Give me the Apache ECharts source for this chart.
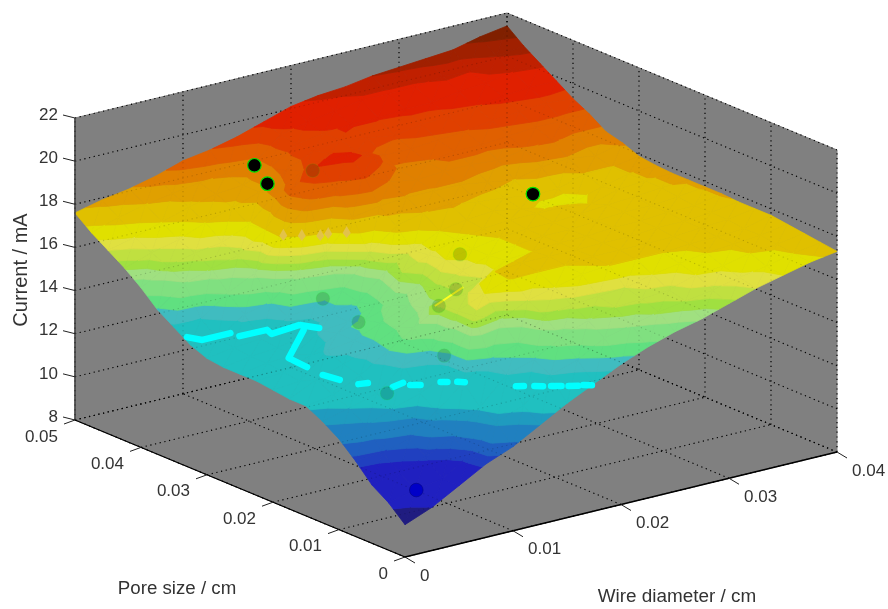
<!DOCTYPE html>
<html><head><meta charset="utf-8"><style>html,body{margin:0;padding:0;background:#fff}#c{width:888px;height:609px}</style>
<script src="https://cdn.jsdelivr.net/npm/echarts@6/dist/echarts.min.js"></script></head><body><div id="c"></div>
<script>
const wireTicks=[0,0.01,0.02,0.03,0.04];
const wireLabels=['0','0.01','0.02','0.03','0.04'];
const poreTicks=[0,0.01,0.02,0.03,0.04,0.05];
const poreLabels=['0','0.01','0.02','0.03','0.04','0.05'];
const currentTicks=[8,10,12,14,16,18,20,22];
const wireStep=0.0025, poreStep=0.0025;
// current (mA): one row per pore size (0 to 0.05 cm), one column per wire diameter (0 to 0.04 cm)
const current=[
[9.5,10.0,10.7,11.4,11.9,12.6,13.3,13.9,14.5,15.0,15.4,15.7,16.1,16.5,16.8,17.1,17.3],
[10.2,10.5,10.7,11.5,12.7,13.2,14.3,14.7,15.4,15.7,16.0,16.2,16.4,16.7,16.9,17.2,17.4],
[10.7,11.0,11.4,12.0,13.1,14.3,14.7,15.4,15.9,16.2,16.3,16.4,16.8,16.9,17.2,17.3,17.5],
[11.5,11.6,11.9,12.9,13.9,14.7,15.1,16.1,16.3,16.4,16.5,16.8,17.0,17.2,17.3,17.4,17.6],
[12.2,12.5,13.0,13.4,14.0,16.4,15.9,16.5,16.8,17.1,17.2,17.2,17.2,17.3,17.3,17.4,17.7],
[12.7,13.0,13.4,14.4,14.7,16.3,16.8,17.25,17.2,17.2,17.3,17.3,17.3,17.3,17.4,17.5,17.7],
[13.1,13.3,13.9,14.7,15.5,16.3,16.5,17.2,17.3,17.3,17.3,17.3,17.3,17.4,17.4,17.5,17.7],
[13.1,13.7,14.1,14.6,15.2,15.8,16.1,16.4,17.1,17.2,17.3,17.3,17.4,17.4,17.5,17.5,17.75],
[13.2,13.3,14.4,14.6,15.1,15.6,16.1,16.6,17.0,17.2,17.3,17.3,17.4,17.5,17.5,17.6,17.75],
[13.3,13.4,13.9,14.6,14.9,15.3,15.9,16.8,17.0,17.2,17.3,17.3,17.4,17.5,17.6,17.7,17.75],
[13.3,13.5,13.6,14.4,14.5,15.0,16.2,16.7,17.1,17.3,17.4,17.4,17.4,17.25,17.6,17.7,17.75],
[13.3,13.5,13.6,13.9,14.6,14.8,15.9,16.6,17.2,17.4,17.5,17.3,17.1,17.0,17.4,17.7,17.8],
[13.4,13.6,13.7,14.4,14.6,15.0,16.4,17.4,17.7,17.8,17.6,17.5,17.3,17.3,17.7,17.7,17.9],
[13.7,13.7,14.5,14.8,15.9,16.4,17.8,18.0,18.1,18.1,18.1,17.9,17.7,18.0,18.1,17.9,18.2],
[14.2,14.3,15.2,15.8,17.3,18.4,18.8,19.2,18.5,18.3,18.4,18.4,18.3,18.5,18.6,18.4,18.4],
[14.7,15.6,16.0,16.3,17.2,18.8,19.6,19.8,19.35,18.4,18.5,18.7,18.7,18.8,18.9,18.9,18.9],
[15.4,16.1,16.4,16.6,17.1,18.3,19.0,19.5,19.3,18.8,18.8,18.9,19.0,19.2,19.3,19.4,19.3],
[16.0,16.4,16.7,17.2,17.6,18.0,18.7,19.3,19.5,19.3,19.1,19.3,19.4,19.5,19.7,19.8,19.8],
[16.5,16.8,17.2,17.6,17.9,18.0,18.5,19.3,19.5,19.6,19.6,19.7,19.7,19.9,20.0,20.2,20.3],
[17.0,17.4,17.7,17.9,18.1,18.2,18.4,19.4,19.7,19.9,20.1,20.1,20.1,20.3,20.2,20.6,20.8],
[17.6,17.9,18.1,18.4,18.8,19.0,19.3,19.7,20.1,20.3,20.4,20.6,20.7,20.8,20.9,21.2,21.4]];
const levels=[9,10,11.3,11.65,12.05,12.6,13,14.3,14.75,15.15,15.65,15.95,16.2,16.5,16.8,17.2,17.72,18.15,18.55,19.03,19.55,20.2,20.6,21.05,22];
const bandColors=['#201c80','#2020c0','#2040c0','#2060c0','#2080c0','#1f9bbf','#20c0c0','#40bcc0','#60e080','#80e080','#a0e080','#a0e040','#c0e040','#e0e040','#e0e000','#e0c000','#e0a000','#e08000','#e06000','#e04000','#e02000','#c02000','#a02000','#802000'];
// measured points
const dotWire=[.0105,.0117,.03,.0041,.0159,.02,.02,.02,.01,.01,.02,.005];
const dotPore=[.04,.04,.0297,.005,.04,.0244,.025,.0276,.0288,.0234,.0268,.0109];
const dotCurrent=[19.8,18.8,17.4,9.97,18.9,16.5,14.8,13.7,15.1,14.7,11.5,13.6];
const dotAbove=[1,1,1,2,0,0,0,0,0,0,0,0];
// saturated streaks at 13.7 mA, as [wire, pore] runs
const streakCurrent=13.7;
const streaks=[
[[.0009,.0345],[.0014,.0330],[.0040,.0330]],
[[.0041,.0318],[.0066,.0317],[.0063,.0305],[.0092,.0310],[.0099,.0292]],
[[.0087,.0296],[.0039,.0240],[.0037,.0209]],
[[.0035,.0182],[.0038,.0161]],
[[.0043,.0141],[.0050,.0138]],
[[.0059,.0115],[.0071,.0119]],
[[.0072,.0110],[.0078,.0104]],
[[.0094,.0100],[.0098,.0096]],
[[.0104,.0091],[.0108,.0086]],
[[.0132,.0048],[.0137,.0044]],
[[.0143,.0038],[.0148,.0033]],
[[.0153,.0029],[.0159,.0023]],
[[.0163,.0019],[.0169,.0014]],
[[.0173,.0013],[.0178,.0008]]];
const foldWire=[.02,.02], foldPore=[.0282,.0239], foldCurrent=[13.62,15.04];
const spikeWire=[.01,.01,.01,.01,.01], spikePore=[.0348,.032,.0292,.028,.0252], spikeCurrent=[17.3,17.65,18,18.25,18.65];

const W=.04,Pm=.05,C0=8,C1=22;
const P=(w,p,c)=>[405+432*w/W-330*p/Pm,557-105*w/W-137*p/Pm-(c-C0)*302/(C1-C0)];
const nW=current[0].length,nP=current.length;
function clip(poly,lim,sign){const out=[];for(let i=0;i<poly.length;i++){const a=poly[i],b=poly[(i+1)%poly.length];const ia=sign*(a[2]-lim)>=0,ib=sign*(b[2]-lim)>=0;if(ia)out.push(a);if(ia!==ib){const t=(lim-a[2])/(b[2]-a[2]);out.push([a[0]+t*(b[0]-a[0]),a[1]+t*(b[1]-a[1]),lim]);}}return out;}
const font='"Liberation Sans",Arial,sans-serif';
function gridLines(api,alpha){
 const ch=[];const L=(a,b)=>{const q=api.coord(a),r=api.coord(b);ch.push({type:'line',shape:{x1:q[0],y1:q[1],x2:r[0],y2:r[1]},style:{stroke:'#000',lineWidth:1.1,lineDash:[1.2,3.6],opacity:alpha}});};
 wireTicks.forEach(w=>{L(P(w,Pm,C0),P(w,Pm,C1));L(P(w,0,C0),P(w,Pm,C0));});
 poreTicks.forEach(p=>{L(P(W,p,C0),P(W,p,C1));L(P(0,p,C0),P(W,p,C0));});
 currentTicks.forEach(c=>{L(P(0,Pm,c),P(W,Pm,c));L(P(W,0,c),P(W,Pm,c));});
 return ch;}
function frame(params,api){
 const ch=[];const poly=pts=>ch.push({type:'polygon',shape:{points:pts.map(a=>api.coord(a))},style:{fill:'#808080',stroke:'#808080',lineWidth:1}});
 poly([P(0,Pm,C0),P(W,Pm,C0),P(W,Pm,C1),P(0,Pm,C1)]);
 poly([P(W,Pm,C0),P(W,0,C0),P(W,0,C1),P(W,Pm,C1)]);
 poly([P(0,0,C0),P(W,0,C0),P(W,Pm,C0),P(0,Pm,C0)]);
 return {type:'group',children:ch.concat(gridLines(api,1))};}
function surf(params,api){const i=api.value(0),j=api.value(1);const ch=[];
 const V=(a,b)=>{const c=current[b][a];const q=api.coord(P(a*wireStep,b*poreStep,c));return [q[0],q[1],c];};
 const A=V(i,j),B=V(i+1,j),C=V(i+1,j+1),D=V(i,j+1);
 for(const tri of [[A,B,C],[A,C,D]]){const mn=Math.min(tri[0][2],tri[1][2],tri[2][2]),mx=Math.max(tri[0][2],tri[1][2],tri[2][2]);
  for(let k=0;k<bandColors.length;k++){if(levels[k+1]<mn||levels[k]>mx)continue;let pl=clip(tri,levels[k],1);if(pl.length)pl=clip(pl,levels[k+1],-1);if(pl.length<3)continue;
   ch.push({type:'polygon',shape:{points:pl.map(v=>[v[0],v[1]])},style:{fill:bandColors[k],stroke:bandColors[k],lineWidth:0.8}});}}
 return {type:'group',children:ch};}
function overlay(params,api){
 const ch=gridLines(api,0.17);
 spikePore.forEach((p,i)=>{const q=api.coord(P(spikeWire[i],p,spikeCurrent[i]));ch.push({type:'polygon',shape:{points:[[q[0],q[1]-6],[q[0]+4,q[1]+1],[q[0],q[1]+6],[q[0]-4,q[1]+1]]},style:{fill:'#e2c24a'}});});
 streaks.forEach(run=>{ch.push({type:'polyline',shape:{points:run.map(a=>api.coord(P(a[0],a[1],streakCurrent)))},style:{stroke:'#00ffff',fill:null,lineWidth:6.5,lineCap:'round',lineJoin:'round'}});});
 ch.push({type:'polyline',shape:{points:foldWire.map((w,i)=>api.coord(P(w,foldPore[i],foldCurrent[i])))},style:{stroke:'#ffff20',fill:null,lineWidth:2}});
 dotWire.forEach((w,i)=>{const q=api.coord(P(w,dotPore[i],dotCurrent[i]));const s=dotAbove[i];
  ch.push({type:'circle',shape:{cx:q[0],cy:q[1],r:6.8},style:s===1?{fill:'#000',stroke:'#00e000',lineWidth:1.2}:s===2?{fill:'#0000c8',stroke:'rgba(0,0,120,.5)',lineWidth:1}:{fill:'rgba(0,40,0,.16)',stroke:'rgba(0,255,0,.1)',lineWidth:1.2}});});
 return {type:'group',children:ch};}
function axesAndText(params,api){
 const ch=[];const L=(a,b,col,lw)=>ch.push({type:'line',shape:{x1:a[0],y1:a[1],x2:b[0],y2:b[1]},style:{stroke:col,lineWidth:lw}});
 const T=(x,y,s,align)=>ch.push({type:'text',x,y,style:{text:s,font:'17px '+font,fill:'#333',align,verticalAlign:'middle'}});
 L(api.coord(P(0,Pm,C0)),api.coord(P(0,Pm,C1)),'#404040',1.5);
 L(api.coord(P(0,Pm,C0)),api.coord(P(0,0,C0)),'#000',1.3);
 L(api.coord(P(0,0,C0)),api.coord(P(W,0,C0)),'#000',1.3);
 currentTicks.forEach(c=>{const q=api.coord(P(0,Pm,c));L(q,[q[0]-12,q[1]-3],'#222',1);T(q[0]-17,q[1]-3,String(c),'right');});
 poreTicks.forEach((p,i)=>{const q=api.coord(P(0,p,C0));L(q,[q[0]-11,q[1]+4],'#222',1);T(q[0]-17,q[1]+17,poreLabels[i],'right');});
 wireTicks.forEach((w,i)=>{const q=api.coord(P(w,0,C0));L(q,[q[0]+10,q[1]+6],'#222',1);T(q[0]+15,q[1]+19,wireLabels[i],'left');});
 ch.push({type:'text',x:177,y:589,style:{text:'Pore size / cm',font:'18.7px '+font,fill:'#333',align:'center',verticalAlign:'middle'}});
 ch.push({type:'text',x:677,y:597,style:{text:'Wire diameter / cm',font:'18.9px '+font,fill:'#333',align:'center',verticalAlign:'middle'}});
 ch.push({type:'text',x:21,y:270,rotation:Math.PI/2,style:{text:'Current / mA',font:'20px '+font,fill:'#333',align:'center',verticalAlign:'middle'}});
 return {type:'group',children:ch};}
const cells=[];for(let j=nP-2;j>=0;j--)for(let i=0;i<nW-1;i++)cells.push([i,j]);
const base={type:'custom',coordinateSystem:'cartesian2d',clip:false,silent:true};
const chart=echarts.init(document.getElementById('c'));
chart.setOption({animation:false,backgroundColor:'#fff',
 xAxis:{type:'value',min:0,max:888,show:false},yAxis:{type:'value',min:0,max:609,inverse:true,show:false},grid:{left:0,right:0,top:0,bottom:0},
 series:[
  {...base,name:'box',data:[[0,0]],renderItem:frame},
  {...base,name:'surface',data:cells,renderItem:surf},
  {...base,name:'marks',data:[[0,0]],renderItem:overlay},
  {...base,name:'axes',data:[[0,0]],renderItem:axesAndText}]});
</script></body></html>
